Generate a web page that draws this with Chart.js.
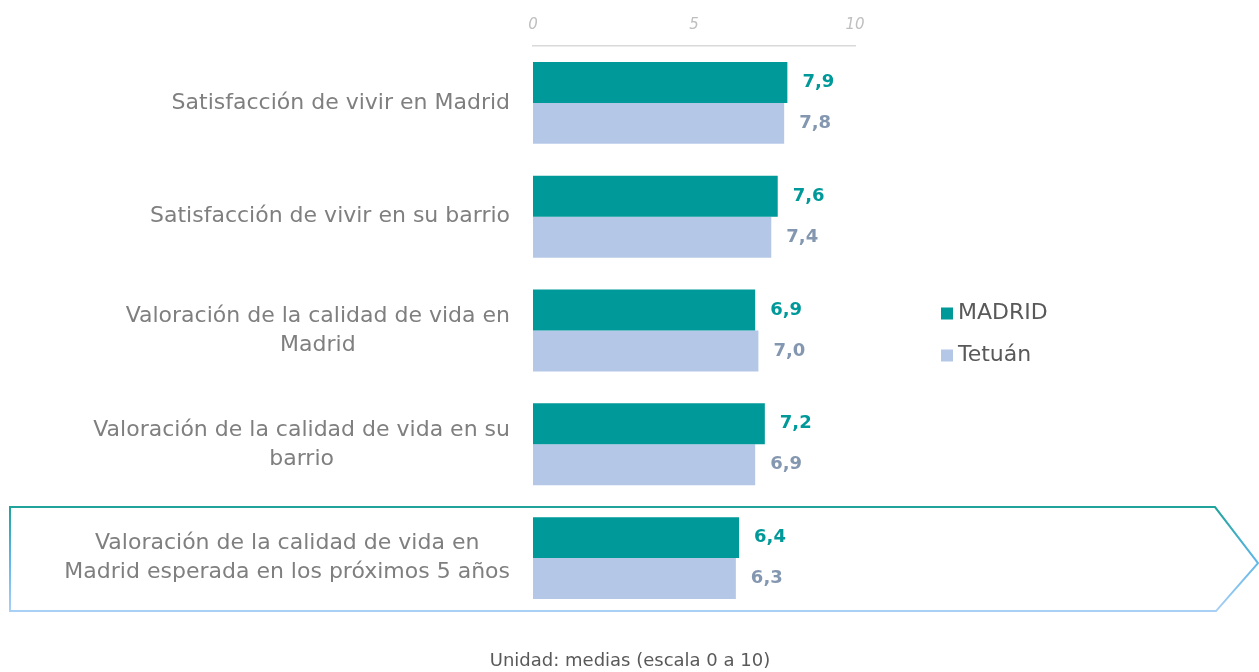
<!DOCTYPE html>
<html>
<head>
<meta charset="utf-8">
<script src="https://cdn.jsdelivr.net/npm/chart.js@4"></script>
<style>
body{margin:0;background:#fff;}
#wrap{width:1259px;height:672px;position:relative;}
</style>
</head>
<body>
<div id="wrap"><canvas id="chart"></canvas></div>
<script>
let categories=[
["Satisfacción de vivir en Madrid"],
["Satisfacción de vivir en su barrio"],
["Valoración de la calidad de vida en","Madrid"],
["Valoración de la calidad de vida en su","barrio"],
["Valoración de la calidad de vida en","Madrid esperada en los próximos 5 años"]
];
let madrid=[7.9,7.6,6.9,7.2,6.4];
let tetuan=[7.8,7.4,7.0,6.9,6.3];
let seriesNames=["MADRID","Tetuán"];
let xTicks=[0,5,10];
let note="Unidad: medias (escala 0 a 10)";

let teal="#009999";
let lightBlue="#B4C7E7";
let fontName="'DejaVu Sans', sans-serif";

// category labels, centred lines, right edge of block near the axis
let labelPlugin={
id:"labels",
afterDraw(chart){
let ctx=chart.ctx;
let y=chart.scales.y;
let right=chart.chartArea.left-23;
ctx.save();
ctx.font="22px "+fontName;
ctx.fillStyle="#7F7F7F";
ctx.textAlign="center";
ctx.textBaseline="middle";
categories.forEach((lines,i)=>{
let cy=y.getPixelForValue(i);
let w=Math.max(...lines.map(l=>ctx.measureText(l).width));
let cx=right-w/2;
let lh=29;
let start=cy-(lines.length-1)*lh/2;
lines.forEach((l,j)=>ctx.fillText(l,cx,start+j*lh));
});
ctx.restore();
}
};

// value labels next to bars
let valuePlugin={
id:"values",
afterDatasetsDraw(chart){
let ctx=chart.ctx;
ctx.save();
ctx.font="bold 18px "+fontName;
ctx.textAlign="left";
ctx.textBaseline="middle";
let colors=[teal,"#8497B0"];
chart.data.datasets.forEach((ds,d)=>{
chart.getDatasetMeta(d).data.forEach((bar,i)=>{
ctx.fillStyle=colors[d];
ctx.fillText(ds.data[i].toFixed(1).replace(".",","),bar.x+15,bar.y);
});
});
ctx.restore();
}
};

// arrow box around last category, legend and note
let extrasPlugin={
id:"extras",
afterDraw(chart){
let ctx=chart.ctx;
let y=chart.scales.y;
let area=chart.chartArea;
let cy=y.getPixelForValue(categories.length-1);
let top=cy-51, bottom=cy+53;
let W=chart.width;
ctx.save();
let g=ctx.createLinearGradient(0,top,0,bottom);
g.addColorStop(0,"#1FA39A");
g.addColorStop(0.5,"#5DB6E8");
g.addColorStop(1,"#A9D0F5");
ctx.strokeStyle=g;
ctx.lineWidth=2;
ctx.beginPath();
ctx.moveTo(10,top);
ctx.lineTo(W-44,top);
ctx.lineTo(W-1,(top+bottom)/2+4);
ctx.lineTo(W-43,bottom);
ctx.lineTo(10,bottom);
ctx.closePath();
ctx.stroke();

// legend
let lx=area.right+86;
let mid=(area.top+area.bottom)/2;
let items=[[seriesNames[0],teal,mid-17],[seriesNames[1],lightBlue,mid+25]];
ctx.font="22px "+fontName;
ctx.textBaseline="middle";
ctx.textAlign="left";
items.forEach(it=>{
ctx.fillStyle=it[1];
ctx.fillRect(lx,it[2]-6,12,12);
ctx.fillStyle="#595959";
ctx.fillText(it[0],lx+17,it[2]);
});

// note
ctx.font="18px "+fontName;
ctx.fillStyle="#595959";
ctx.textAlign="center";
ctx.fillText(note,630,661);
ctx.restore();
}
};

new Chart(document.getElementById("chart"),{
type:"bar",
data:{
labels:categories.map(c=>c.join(" ")),
datasets:[
{label:seriesNames[0],data:madrid,backgroundColor:teal,categoryPercentage:0.72,barPercentage:1},
{label:seriesNames[1],data:tetuan,backgroundColor:lightBlue,categoryPercentage:0.72,barPercentage:1}
]
},
options:{
indexAxis:"y",
responsive:true,
maintainAspectRatio:false,
animation:false,
layout:{padding:{left:533,right:404,top:12,bottom:57}},
plugins:{legend:{display:false},tooltip:{enabled:false}},
scales:{
x:{
position:"top",
min:0,max:10,
afterBuildTicks(axis){axis.ticks=xTicks.map(v=>({value:v}));},
grid:{display:false},
border:{display:true,color:"#D9D9D9",width:1.5},
ticks:{color:"#BFBFBF",padding:4,font:{family:fontName,size:15,style:"italic"}}
},
y:{display:false}
}
},
plugins:[labelPlugin,valuePlugin,extrasPlugin]
});
</script>
</body>
</html>
